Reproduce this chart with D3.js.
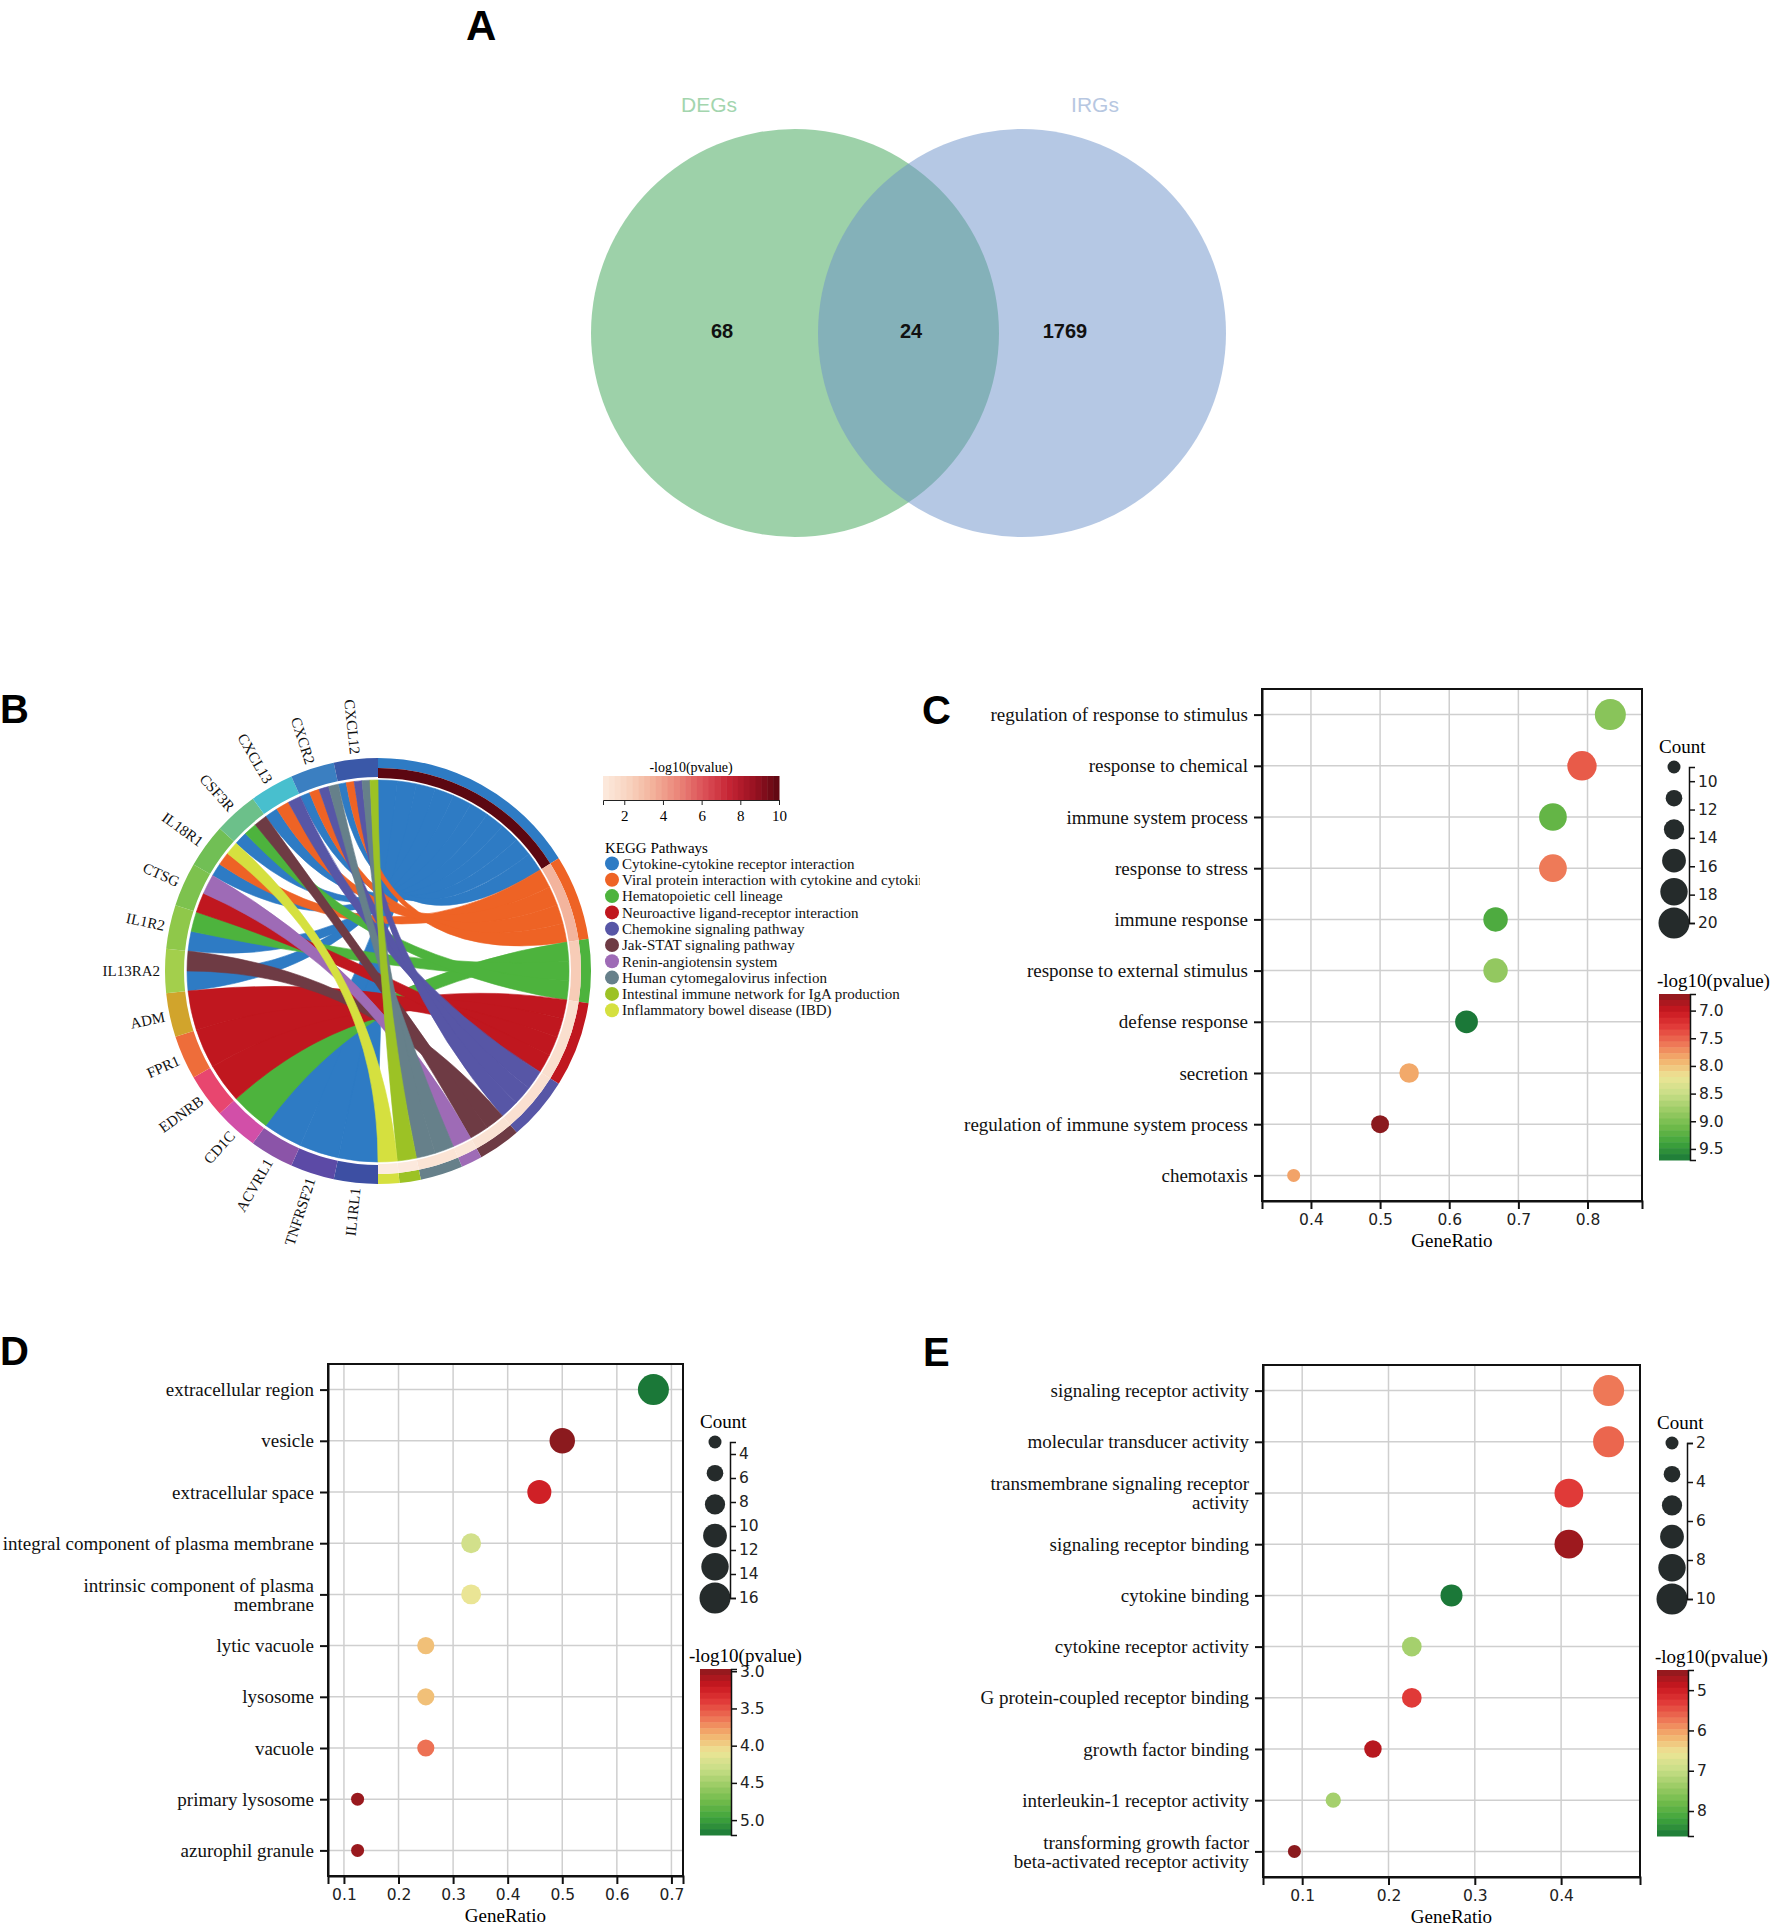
<!DOCTYPE html>
<html>
<head>
<meta charset="utf-8">
<script src="https://cdn.jsdelivr.net/npm/d3@7"></script>
<style>
  body { margin: 0; background: #fff; }
  svg { display: block; }
</style>
</head>
<body>
<div id="figure"></div>
<script>
// ---------- data ----------

// A: Venn
const vennSets = ["DEGs", "IRGs"];
const vennCounts = [68, 24, 1769];          // DEGs only, shared, IRGs only

// B: KEGG chord
const genes = ["IL1RL1", "TNFRSF21", "ACVRL1", "CD1C", "EDNRB", "FPR1", "ADM", "IL13RA2",
               "IL1R2", "CTSG", "IL18R1", "CSF3R", "CXCL13", "CXCR2", "CXCL12"];
const geneColors = ["#3d4fa3", "#5c4aa6", "#8b54a8", "#d24fa8", "#e8466f", "#ee6d3a", "#d1a42c", "#a3cf4c",
                    "#8fc84a", "#7dc24e", "#71bf55", "#6cc08a", "#48bfce", "#3b7fc1", "#3a58a8"];
const pathways = [
  "Cytokine-cytokine receptor interaction",
  "Viral protein interaction with cytokine and cytokine receptor",
  "Hematopoietic cell lineage",
  "Neuroactive ligand-receptor interaction",
  "Chemokine signaling pathway",
  "Jak-STAT signaling pathway",
  "Renin-angiotensin system",
  "Human cytomegalovirus infection",
  "Intestinal immune network for IgA production",
  "Inflammatory bowel disease (IBD)"
];
const pathwayColors = ["#2e7bc4", "#ee6325", "#4db33d", "#c0171f", "#5756a6",
                       "#6e3b44", "#9e6bb6", "#66808a", "#9cc225", "#d5e03f"];
const pathwayLogP = [10.0, 3.4, 2.5, 1.6, 1.5, 1.4, 1.2, 1.3, 1.0, 0.9];
const pathwayGenes = [
  ["IL1RL1", "TNFRSF21", "ACVRL1", "IL13RA2", "IL1R2", "IL18R1", "CSF3R", "CXCL13", "CXCR2", "CXCL12"],
  ["IL18R1", "CXCL13", "CXCR2", "CXCL12"],
  ["CD1C", "IL1R2", "CSF3R"],
  ["EDNRB", "FPR1", "ADM", "CTSG"],
  ["CXCL13", "CXCR2", "CXCL12"],
  ["IL13RA2", "CSF3R"],
  ["CTSG"],
  ["CXCR2", "CXCL12"],
  ["CXCL12"],
  ["IL18R1"]
];

// C: GO biological process
const bpTerms = ["regulation of response to stimulus", "response to chemical", "immune system process",
                 "response to stress", "immune response", "response to external stimulus", "defense response",
                 "secretion", "regulation of immune system process", "chemotaxis"];
const bpRatio = [0.833, 0.792, 0.75, 0.75, 0.667, 0.667, 0.625, 0.542, 0.5, 0.375];
const bpCount = [20, 19, 18, 18, 16, 16, 15, 13, 12, 9];
const bpLogP  = [8.93, 7.46, 9.17, 7.62, 9.3, 8.86, 9.7, 7.85, 6.7, 7.82];

// D: GO cellular component
const ccTerms = ["extracellular region", "vesicle", "extracellular space", "integral component of plasma membrane",
                 "intrinsic component of plasma\nmembrane", "lytic vacuole", "lysosome", "vacuole",
                 "primary lysosome", "azurophil granule"];
const ccRatio = [0.667, 0.5, 0.458, 0.333, 0.333, 0.25, 0.25, 0.25, 0.125, 0.125];
const ccCount = [16, 12, 11, 8, 8, 6, 6, 6, 3, 3];
const ccLogP  = [5.2, 2.97, 3.25, 4.25, 4.1, 3.92, 3.92, 3.62, 3.02, 3.02];

// E: GO molecular function
const mfTerms = ["signaling receptor activity", "molecular transducer activity",
                 "transmembrane signaling receptor\nactivity", "signaling receptor binding", "cytokine binding",
                 "cytokine receptor activity", "G protein-coupled receptor binding", "growth factor binding",
                 "interleukin-1 receptor activity", "transforming growth factor\nbeta-activated receptor activity"];
const mfRatio = [0.455, 0.455, 0.409, 0.409, 0.273, 0.227, 0.227, 0.182, 0.136, 0.091];
const mfCount = [10, 10, 9, 9, 6, 5, 5, 4, 3, 2];
const mfLogP  = [5.75, 5.62, 5.3, 4.62, 8.62, 7.3, 5.3, 4.8, 7.3, 4.5];

// ---------- setup ----------
const W = 1772, H = 1928;
const SERIF = '"Liberation Serif", "Times New Roman", serif';
const SANS = '"DejaVu Sans", Verdana, sans-serif';
const ARIAL = '"Liberation Sans", Arial, sans-serif';

const svg = d3.select("#figure").append("svg").attr("width", W).attr("height", H);
svg.append("rect").attr("width", W).attr("height", H).attr("fill", "#fff");

// red -> yellow -> green ramp used by the GO dot plots
const goRamp = d3.piecewise(d3.interpolateRgb, ["#8b1a1e", "#c8171f", "#e23c3a", "#ee7656", "#f3b36e",
  "#ece596", "#c9de87", "#9ccc66", "#6fba4a", "#3ea33b", "#1b7838"]);
// pale peach -> dark red ramp for the KEGG p values
const keggRamp = d3.piecewise(d3.interpolateRgb, ["#fcebdf", "#f8d4c0", "#f3b19a", "#ea8478",
  "#dc5258", "#c62434", "#9a1222", "#5c0711"]);

// ---------- A: Venn ----------
function drawVenn() {
  const g = svg.append("g");
  const r = 204, cy = 333;
  const cx = [795, 1022];
  const fills = ["#3ba353", "#6b91c9"];
  const labelColors = ["#a3d5ae", "#b7c7e1"];

  g.selectAll("circle").data(vennSets).join("circle")
    .attr("cx", (d, i) => cx[i]).attr("cy", cy).attr("r", r)
    .attr("fill", (d, i) => fills[i]).attr("fill-opacity", 0.5);

  g.selectAll(".set-label").data(vennSets).join("text")
    .attr("class", "set-label")
    .attr("x", (d, i) => [709, 1095][i]).attr("y", 112)
    .attr("text-anchor", "middle").attr("font-family", ARIAL).attr("font-size", 21)
    .attr("fill", (d, i) => labelColors[i]).text(d => d);

  g.selectAll(".count").data(vennCounts).join("text")
    .attr("class", "count")
    .attr("x", (d, i) => [722, 911, 1065][i]).attr("y", 338)
    .attr("text-anchor", "middle").attr("font-family", ARIAL).attr("font-weight", "bold")
    .attr("font-size", 20).attr("fill", "#111").text(d => d);
}

// ---------- B: chord ----------
function drawChord() {
  const cx = 378, cy = 971;
  const rRibbon = 191, rInner = 193, rMid = 203, rOuter = 213;
  const g = svg.append("g").attr("transform", `translate(${cx},${cy})`);

  const nLinks = d3.sum(pathwayGenes, d => d.length);
  const unit = Math.PI / nLinks;            // angle per link on the pathway half
  const geneArc = Math.PI / genes.length;   // each gene gets the same slice
  const geneLinks = genes.map(gn => d3.range(pathways.length).filter(i => pathwayGenes[i].includes(gn)));

  const links = [];
  const pathArcs = [];
  let start = 0;
  pathwayGenes.forEach((list, pi) => {
    pathArcs.push({ pi, startAngle: start, endAngle: start + list.length * unit });
    list.slice().sort((a, b) => genes.indexOf(a) - genes.indexOf(b)).forEach((gn, k) => {
      const gi = genes.indexOf(gn);
      const w = geneArc / geneLinks[gi].length;
      const g0 = Math.PI + gi * geneArc + geneLinks[gi].indexOf(pi) * w;
      links.push({
        pi,
        source: { startAngle: start + k * unit, endAngle: start + (k + 1) * unit },
        target: { startAngle: g0, endAngle: g0 + w }
      });
    });
    start += list.length * unit;
  });

  const ribbon = d3.ribbon().radius(rRibbon);
  g.append("g").selectAll("path").data(links).join("path")
    .attr("d", ribbon)
    .attr("fill", d => pathwayColors[d.pi])
    .attr("stroke", d => pathwayColors[d.pi]).attr("stroke-width", 0.6);

  const arc = d3.arc();
  // gene segments
  g.append("g").selectAll("path").data(genes).join("path")
    .attr("d", (d, i) => arc({ innerRadius: rInner + 1, outerRadius: rOuter,
      startAngle: Math.PI + i * geneArc, endAngle: Math.PI + (i + 1) * geneArc }))
    .attr("fill", (d, i) => geneColors[i]);

  // pathway segments: outer colour band + inner p value band
  g.append("g").selectAll("path").data(pathArcs).join("path")
    .attr("d", d => arc({ innerRadius: rMid, outerRadius: rOuter, startAngle: d.startAngle, endAngle: d.endAngle }))
    .attr("fill", d => pathwayColors[d.pi]);
  const pExt = d3.extent(pathwayLogP);
  g.append("g").selectAll("path").data(pathArcs).join("path")
    .attr("d", d => arc({ innerRadius: rInner, outerRadius: rMid, startAngle: d.startAngle, endAngle: d.endAngle }))
    .attr("fill", d => keggRamp((pathwayLogP[d.pi] - pExt[0]) / (pExt[1] - pExt[0])));

  // gene labels, reading towards the ring
  g.append("g").selectAll("text").data(genes).join("text")
    .attr("transform", (d, i) => {
      const a = Math.PI + (i + 0.5) * geneArc;
      const x = 218 * Math.sin(a), y = -218 * Math.cos(a);
      return `translate(${x},${y}) rotate(${a * 180 / Math.PI - 270})`;
    })
    .attr("dy", "0.35em").attr("text-anchor", "end")
    .attr("font-family", SERIF).attr("font-size", 15).attr("fill", "#111")
    .text(d => d);
}

function drawChordLegend() {
  svg.append("clipPath").attr("id", "legendClip")
    .append("rect").attr("x", 0).attr("y", 0).attr("width", 920).attr("height", H);
  const g = svg.append("g").attr("clip-path", "url(#legendClip)");

  const x = d3.scaleLinear().domain(d3.extent(pathwayLogP)).range([603, 779]);
  g.append("text").attr("x", 691).attr("y", 772).attr("text-anchor", "middle")
    .attr("font-family", SERIF).attr("font-size", 14).text("-log10(pvalue)");

  const nBands = 30;
  const bw = (x.range()[1] - x.range()[0]) / nBands;
  g.append("g").selectAll("rect").data(d3.range(nBands)).join("rect")
    .attr("x", i => x.range()[0] + i * bw).attr("y", 776)
    .attr("width", bw + 0.5).attr("height", 24)
    .attr("fill", i => keggRamp((i + 0.5) / nBands));

  g.append("g").attr("transform", "translate(0,800)")
    .call(d3.axisBottom(x).ticks(5).tickSize(5).tickPadding(5))
    .attr("font-family", SERIF).attr("font-size", 15)
    .call(a => a.selectAll("line,path").attr("stroke", "#222"));

  g.append("text").attr("x", 605).attr("y", 853)
    .attr("font-family", SERIF).attr("font-size", 15).text("KEGG Pathways");

  const item = g.append("g").selectAll("g").data(pathways).join("g")
    .attr("transform", (d, i) => `translate(0,${863.5 + i * 16.3})`);
  item.append("circle").attr("cx", 612).attr("r", 7).attr("fill", (d, i) => pathwayColors[i]);
  item.append("text").attr("x", 622).attr("dy", "0.35em")
    .attr("font-family", SERIF).attr("font-size", 15).attr("fill", "#111").text(d => d);
}

// ---------- C/D/E: GO dot plots ----------
function drawDotPlot(cfg) {
  const { terms, ratio, count, logp, left, right, top, bottom, logDx } = cfg;
  const g = svg.append("g");

  const rx = d3.extent(ratio), pad = (rx[1] - rx[0]) * 0.1;
  const x = d3.scaleLinear().domain([rx[0] - pad, rx[1] + pad]).range([left, right]);
  const y = d3.scalePoint().domain(terms).range([top, bottom]).padding(0.5);
  const cExt = d3.extent(count);
  const r = d3.scaleLinear().domain(cExt).range([6.5, 15.5]);
  const pExt = d3.extent(logp);
  const color = v => goRamp((v - pExt[0]) / (pExt[1] - pExt[0]));

  // grid
  g.append("g").selectAll("line").data(x.ticks(5)).join("line")
    .attr("x1", d => x(d)).attr("x2", d => x(d)).attr("y1", top).attr("y2", bottom)
    .attr("stroke", "#cfcfcf").attr("stroke-width", 1.5);
  g.append("g").selectAll("line").data(terms).join("line")
    .attr("x1", left).attr("x2", right).attr("y1", d => y(d)).attr("y2", d => y(d))
    .attr("stroke", "#cfcfcf").attr("stroke-width", 1.5);

  g.append("rect").attr("x", left).attr("y", top)
    .attr("width", right - left).attr("height", bottom - top)
    .attr("fill", "none").attr("stroke", "#111").attr("stroke-width", 2);

  // dots
  g.append("g").selectAll("circle").data(terms).join("circle")
    .attr("cx", (d, i) => x(ratio[i])).attr("cy", d => y(d))
    .attr("r", (d, i) => r(count[i]))
    .attr("fill", (d, i) => color(logp[i]));

  // axes
  g.append("g").attr("transform", `translate(0,${bottom})`)
    .call(d3.axisBottom(x).ticks(5).tickSize(8).tickSizeOuter(8).tickPadding(5))
    .attr("font-family", SANS).attr("font-size", 15.5)
    .call(a => a.selectAll("line,path").attr("stroke", "#111").attr("stroke-width", 2))
    .call(a => a.selectAll("text").attr("fill", "#222"));

  g.append("g").attr("transform", `translate(${left},0)`)
    .call(d3.axisLeft(y).tickSize(8).tickSizeOuter(0).tickFormat(""))
    .call(a => a.selectAll("line,path").attr("stroke", "#111").attr("stroke-width", 2));

  // term labels (with manual line breaks)
  const lab = g.append("g").selectAll("text").data(terms).join("text")
    .attr("x", left - 14).attr("y", d => y(d))
    .attr("text-anchor", "end").attr("font-family", SERIF).attr("font-size", 19).attr("fill", "#111");
  lab.each(function (d) {
    const lines = d.split("\n");
    d3.select(this).selectAll("tspan").data(lines).join("tspan")
      .attr("x", left - 14)
      .attr("dy", (l, i) => i === 0 ? `${0.35 - (lines.length - 1) * 0.5}em` : "1em")
      .text(l => l);
  });

  g.append("text").attr("x", (left + right) / 2).attr("y", bottom + 46)
    .attr("text-anchor", "middle").attr("font-family", SERIF).attr("font-size", 19).text("GeneRatio");

  // size legend
  g.append("text").attr("x", right + 17).attr("y", top + 64)
    .attr("font-family", SERIF).attr("font-size", 19).text("Count");
  const sy = d3.scaleLinear().domain(cExt).range([top + 78, top + 234]);
  const legendVals = d3.range(6).map(i => cExt[0] + i * (cExt[1] - cExt[0]) / 5);
  g.append("g").selectAll("circle").data(legendVals).join("circle")
    .attr("cx", right + 32).attr("cy", d => sy(d)).attr("r", d => r(d)).attr("fill", "#252b2b");
  g.append("g").attr("transform", `translate(${right + 47},0)`)
    .call(d3.axisRight(sy).ticks(5).tickSize(6).tickPadding(3))
    .attr("font-family", SANS).attr("font-size", 15.5)
    .call(a => a.selectAll("line,path").attr("stroke", "#111").attr("stroke-width", 1.5))
    .call(a => a.selectAll("text").attr("fill", "#222"));

  // colour legend
  g.append("text").attr("x", right + logDx).attr("y", top + 298)
    .attr("font-family", SERIF).attr("font-size", 19).text("-log10(pvalue)");
  const cyScale = d3.scaleLinear().domain(pExt).range([top + 305, top + 471]);
  const nBands = 28;
  const bh = (cyScale.range()[1] - cyScale.range()[0]) / nBands;
  g.append("g").selectAll("rect").data(d3.range(nBands)).join("rect")
    .attr("x", right + 17).attr("y", i => cyScale.range()[0] + i * bh)
    .attr("width", 31).attr("height", bh + 0.5)
    .attr("fill", i => goRamp((i + 0.5) / nBands));
  g.append("g").attr("transform", `translate(${right + 48},0)`)
    .call(d3.axisRight(cyScale).ticks(5).tickSize(6).tickPadding(3))
    .attr("font-family", SANS).attr("font-size", 15.5)
    .call(a => a.selectAll("line,path").attr("stroke", "#111").attr("stroke-width", 1.5))
    .call(a => a.selectAll("text").attr("fill", "#222"));
}

// ---------- panel letters ----------
function drawLetters() {
  const letters = [["A", 466, 40, 42], ["B", 0, 723, 40], ["C", 922, 724, 40], ["D", 0, 1365, 40], ["E", 923, 1366, 40]];
  svg.append("g").selectAll("text").data(letters).join("text")
    .attr("x", d => d[1]).attr("y", d => d[2])
    .attr("font-family", ARIAL).attr("font-weight", "bold").attr("font-size", d => d[3])
    .attr("fill", "#000").text(d => d[0]);
}

drawVenn();
drawChord();
drawChordLegend();
drawDotPlot({ terms: bpTerms, ratio: bpRatio, count: bpCount, logp: bpLogP,
              left: 1262, right: 1642, top: 689, bottom: 1201, logDx: 15 });
drawDotPlot({ terms: ccTerms, ratio: ccRatio, count: ccCount, logp: ccLogP,
              left: 328, right: 683, top: 1364, bottom: 1876, logDx: 6 });
drawDotPlot({ terms: mfTerms, ratio: mfRatio, count: mfCount, logp: mfLogP,
              left: 1263, right: 1640, top: 1365, bottom: 1877, logDx: 15 });
drawLetters();
</script>
</body>
</html>
